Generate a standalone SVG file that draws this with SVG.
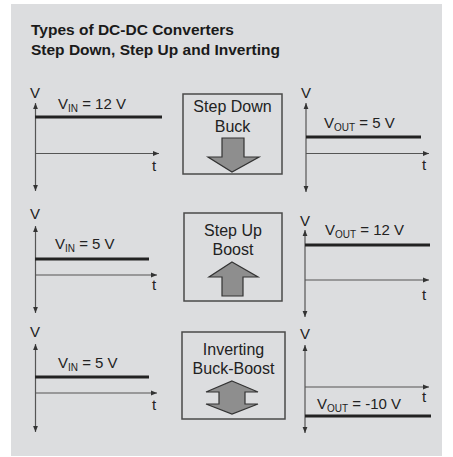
<svg xmlns="http://www.w3.org/2000/svg" width="453" height="457" viewBox="0 0 453 457">
<defs>
<marker id="ah" viewBox="0 0 6 6" refX="6" refY="3" markerWidth="6" markerHeight="6" markerUnits="userSpaceOnUse" orient="auto-start-reverse">
<path d="M0,0.6 L6,3 L0,5.4 Z" fill="#333"/>
</marker>
<style>
.bg{fill:#dcdddf}
.ttl{font-family:"Liberation Sans",Arial,sans-serif;font-weight:bold;font-size:15.5px;fill:#1a1a1a}
.lbl{font-family:"Liberation Sans",Arial,sans-serif;font-size:15px;fill:#222}
.bx{font-size:16px}
.sub{font-size:10px}
.ctr{text-anchor:middle}
.ax{stroke:#555;stroke-width:1.2;fill:none}
.sig{stroke:#222;stroke-width:3;fill:none}
.box{fill:none;stroke:#4a4a4a;stroke-width:1.5}
.arr{fill:#8e8e8e;stroke:#333;stroke-width:1.2;stroke-linejoin:miter}
</style>
</defs>
<rect class="bg" x="11" y="4" width="431" height="452"/>
<text class="ttl" x="31" y="35">Types of DC-DC Converters</text>
<text class="ttl" x="31" y="55">Step Down, Step Up and Inverting</text>

<g id="connectors">
<line class="ax" x1="35.5" y1="103" x2="35.5" y2="191" marker-start="url(#ah)" marker-end="url(#ah)"/>
<line class="ax" x1="35.5" y1="153.5" x2="159" y2="153.5" marker-end="url(#ah)"/>
<line class="sig" x1="35" y1="117" x2="162" y2="117"/>
<line class="ax" x1="35.5" y1="226" x2="35.5" y2="313" marker-start="url(#ah)" marker-end="url(#ah)"/>
<line class="ax" x1="35.5" y1="275" x2="157" y2="275" marker-end="url(#ah)"/>
<line class="sig" x1="35" y1="259" x2="149" y2="259"/>
<line class="ax" x1="35.5" y1="344" x2="35.5" y2="432" marker-start="url(#ah)" marker-end="url(#ah)"/>
<line class="ax" x1="35.5" y1="393" x2="157" y2="393" marker-end="url(#ah)"/>
<line class="sig" x1="35" y1="377" x2="149" y2="377"/>
<line class="ax" x1="306" y1="103" x2="306" y2="192" marker-start="url(#ah)" marker-end="url(#ah)"/>
<line class="ax" x1="306" y1="153.5" x2="429" y2="153.5" marker-end="url(#ah)"/>
<line class="sig" x1="306" y1="137" x2="421" y2="137"/>
<line class="ax" x1="305" y1="230" x2="305" y2="317" marker-start="url(#ah)" marker-end="url(#ah)"/>
<line class="ax" x1="305" y1="280" x2="429" y2="280" marker-end="url(#ah)"/>
<line class="sig" x1="305" y1="245" x2="430" y2="245"/>
<line class="ax" x1="305" y1="345" x2="305" y2="433" marker-start="url(#ah)" marker-end="url(#ah)"/>
<line class="ax" x1="305" y1="387" x2="429" y2="387" marker-end="url(#ah)"/>
<line class="sig" x1="305" y1="416" x2="431" y2="416"/>
</g>

<g id="graph-in-1">
<text class="lbl" x="30" y="98">V</text>
<text class="lbl" x="58" y="109">V<tspan class="sub" dy="3">IN</tspan><tspan dy="-3"> = 12 V</tspan></text>
<text class="lbl" x="152" y="171">t</text>
</g>
<g id="graph-in-2">
<text class="lbl" x="30" y="219">V</text>
<text class="lbl" x="55" y="249">V<tspan class="sub" dy="3">IN</tspan><tspan dy="-3"> = 5 V</tspan></text>
<text class="lbl" x="152" y="290">t</text>
</g>
<g id="graph-in-3">
<text class="lbl" x="30" y="337">V</text>
<text class="lbl" x="58" y="368">V<tspan class="sub" dy="3">IN</tspan><tspan dy="-3"> = 5 V</tspan></text>
<text class="lbl" x="152" y="410">t</text>
</g>
<g id="graph-out-1">
<text class="lbl" x="301" y="98">V</text>
<text class="lbl" x="324" y="128">V<tspan class="sub" dy="3">OUT</tspan><tspan dy="-3"> = 5 V</tspan></text>
<text class="lbl" x="422" y="170">t</text>
</g>
<g id="graph-out-2">
<text class="lbl" x="300" y="226">V</text>
<text class="lbl" x="325" y="235">V<tspan class="sub" dy="3">OUT</tspan><tspan dy="-3"> = 12 V</tspan></text>
<text class="lbl" x="422" y="300">t</text>
</g>
<g id="graph-out-3">
<text class="lbl" x="300" y="339">V</text>
<text class="lbl" x="317" y="409">V<tspan class="sub" dy="3">OUT</tspan><tspan dy="-3"> = -10 V</tspan></text>
<text class="lbl" x="422" y="402">t</text>
</g>

<g id="buck">
<rect class="box" x="183" y="94" width="99" height="80"/>
<text class="lbl bx ctr" x="232.5" y="112">Step Down</text>
<text class="lbl bx ctr" x="232.5" y="132">Buck</text>
<polygon class="arr" points="222,138 244,138 244,157 259,157 232,172 208,157 222,157"/>
</g>
<g id="boost">
<rect class="box" x="184" y="213" width="98" height="88"/>
<text class="lbl bx ctr" x="233" y="236">Step Up</text>
<text class="lbl bx ctr" x="233" y="255">Boost</text>
<polygon class="arr" points="232,262 258,277 243,277 243,296 222,296 222,277 209,277"/>
</g>
<g id="buck-boost">
<rect class="box" x="182" y="332" width="103" height="87"/>
<text class="lbl bx ctr" x="233.5" y="355">Inverting</text>
<text class="lbl bx ctr" x="233.5" y="374">Buck-Boost</text>
<polygon class="arr" points="232,381 258,392 245,392 245,404 258,404 232,414 206,404 219,404 219,392 206,392"/>
</g>
</svg>
